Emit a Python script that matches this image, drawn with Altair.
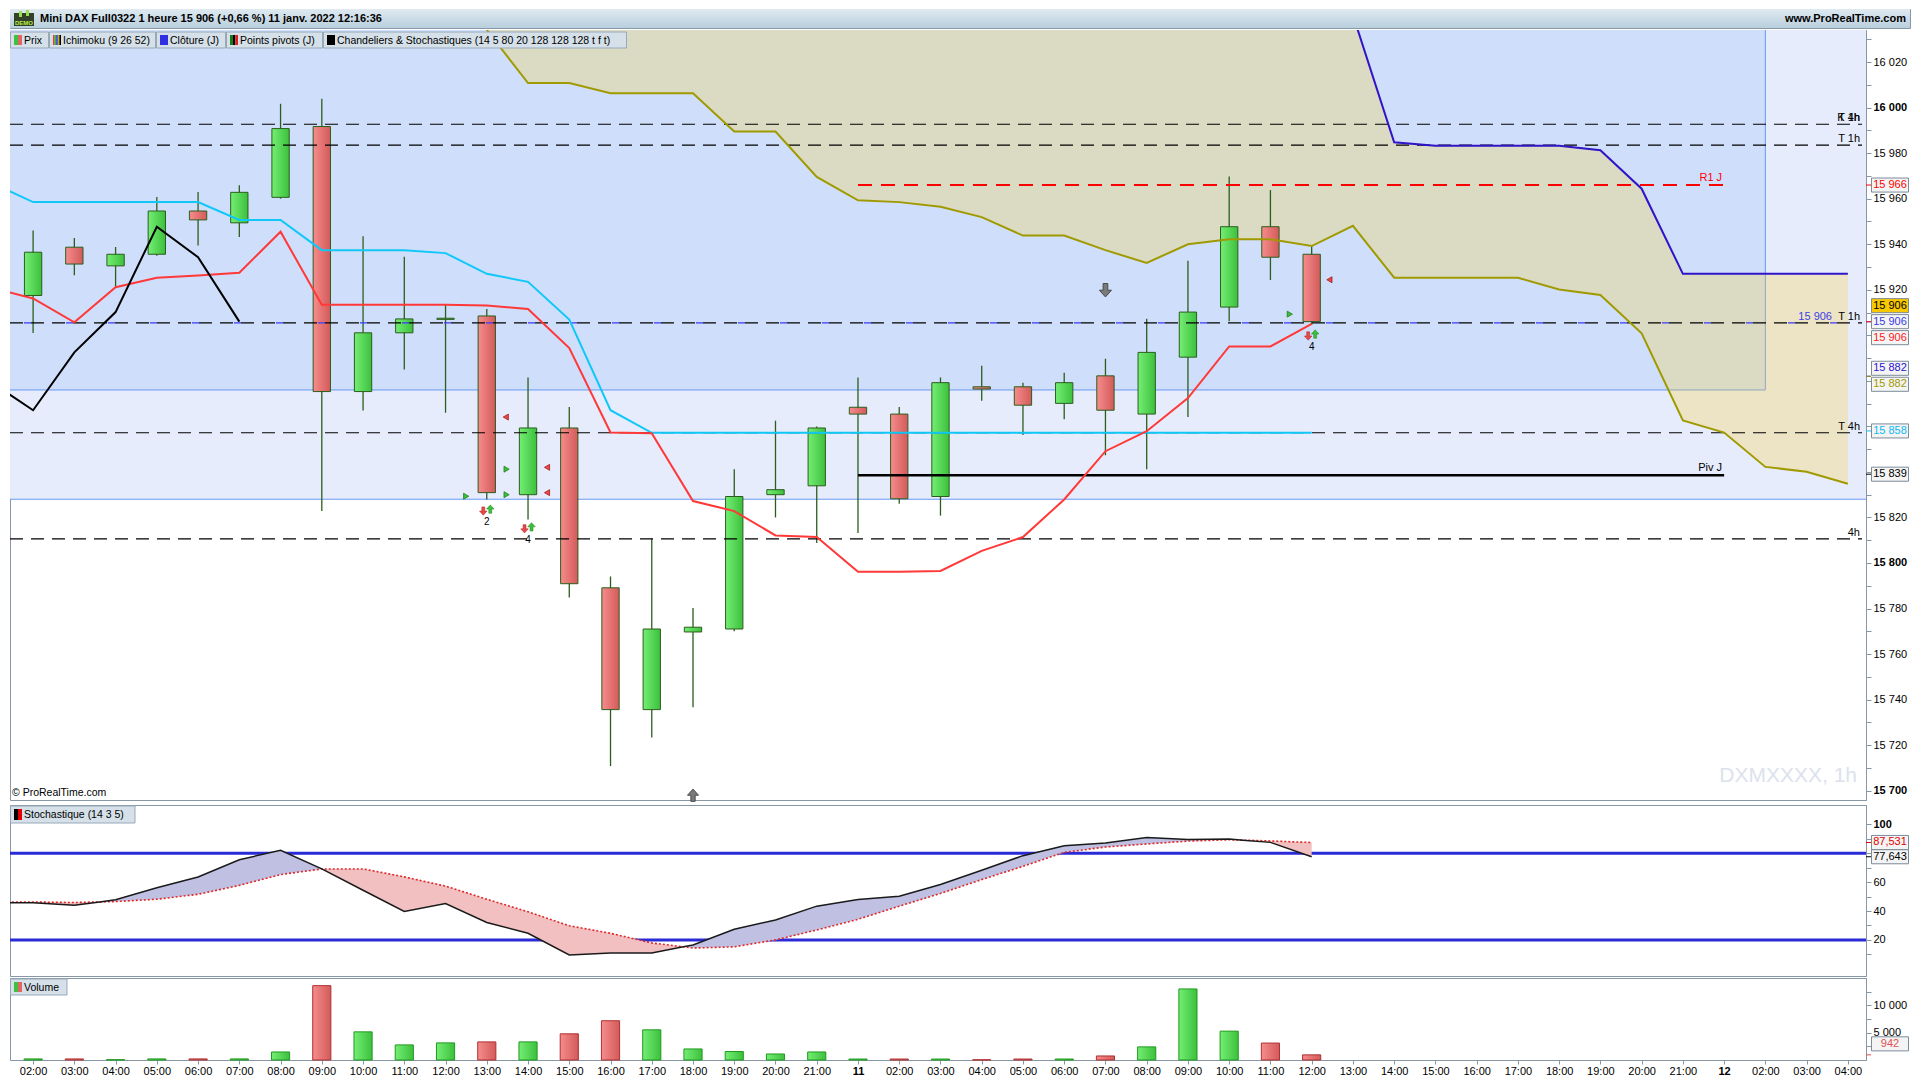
import altair as alt
import pandas as pd

# ---------------- values ----------------
hours = ["02:00", "03:00", "04:00", "05:00", "06:00", "07:00", "08:00", "09:00", "10:00", "11:00",
         "12:00", "13:00", "14:00", "15:00", "16:00", "17:00", "18:00", "19:00", "20:00", "21:00",
         "11",
         "02:00", "03:00", "04:00", "05:00", "06:00", "07:00", "08:00", "09:00", "10:00", "11:00",
         "12:00", "13:00", "14:00", "15:00", "16:00", "17:00", "18:00", "19:00", "20:00", "21:00",
         "12",
         "02:00", "03:00", "04:00"]

opens = [15917.5, 15938.7, 15930.5, 15935.6, 15954.6, 15949.4, 15960.6, 15991.7, 15875.3, 15901.1,
         15907.0, 15908.5, 15830.0, 15859.3, 15789.1, 15735.6, 15769.7, 15771.0, 15830.0, 15833.9,
         15868.4, 15865.4, 15829.2, 15877.4, 15877.4, 15870.1, 15882.2, 15865.4, 15890.4, 15912.4,
         15947.7, 15935.6]
highs = [15946.0, 15942.7, 15938.8, 15960.8, 15962.9, 15965.9, 16001.7, 16003.9, 15943.5, 15934.5,
         15913.4, 15911.6, 15881.5, 15868.5, 15794.1, 15810.6, 15780.2, 15841.2, 15862.5, 15860.0,
         15881.5, 15868.5, 15881.5, 15886.6, 15879.2, 15883.6, 15889.7, 15907.3, 15932.8, 15969.8,
         15963.8, 15939.2]
lows = [15901.0, 15926.4, 15921.3, 15935.0, 15939.4, 15943.2, 15960.0, 15822.8, 15867.0, 15885.0,
        15866.0, 15827.9, 15819.1, 15784.8, 15710.8, 15723.4, 15736.6, 15770.0, 15820.0, 15808.8,
        15813.2, 15826.0, 15820.8, 15871.3, 15856.2, 15863.1, 15847.3, 15841.2, 15864.1, 15906.2,
        15924.3, 15904.5]
closes = [15936.5, 15931.3, 15935.6, 15954.6, 15950.7, 15962.8, 15990.8, 15875.3, 15901.1, 15907.2,
          15907.5, 15830.9, 15859.3, 15790.9, 15735.6, 15771.0, 15771.8, 15829.2, 15832.2, 15859.3,
          15865.4, 15828.2, 15879.2, 15876.4, 15869.3, 15879.2, 15867.1, 15892.5, 15910.2, 15947.7,
          15934.3, 15906.0]
volumes = [200, 200, 60, 200, 200, 200, 1470, 13600, 5150, 2760,
           3130, 3310, 3310, 4790, 7180, 5520, 2020, 1550, 1100, 1470,
           180, 180, 180, 40, 180, 180, 740, 2400, 13000, 5280,
           3100, 942]

# Ichimoku (first index of each series given by *_start)
line_start = -1
tenkan = [15920.8, 15916.2, 15905.7, 15921.1, 15925.3, 15926.3, 15927.5, 15945.5, 15913.4, 15913.4,
          15913.4, 15913.4, 15913.1, 15911.6, 15894.4, 15857.3, 15857.0, 15827.2, 15822.8, 15812.1,
          15811.4, 15796.1, 15796.1, 15796.5, 15805.3, 15811.4, 15827.9, 15849.1, 15857.9, 15872.4,
          15895.1, 15895.1, 15905.0]
kijun = [15966.9, 15958.5, 15958.5, 15958.5, 15958.5, 15958.5, 15950.7, 15950.7, 15937.4, 15937.4,
         15937.4, 15936.1, 15927.0, 15923.5, 15906.9, 15867.1, 15857.2, 15857.2, 15857.2, 15857.2,
         15857.2, 15857.2, 15857.2, 15857.2, 15857.2, 15857.2, 15857.2, 15857.2, 15857.2, 15857.2,
         15857.2, 15857.2, 15857.2]
chikou_shift = 26
senkou_start = 11
senkou_a = [16034.1, 16010.8, 16010.8, 16006.3, 16006.3, 16006.3, 15989.5, 15989.5, 15969.6, 15959.3,
            15958.5, 15956.5, 15951.9, 15943.8, 15943.8, 15937.4, 15931.8, 15940.0, 15942.2, 15942.2,
            15939.2, 15948.1, 15925.3, 15925.3, 15925.3, 15925.3, 15920.1, 15917.7, 15900.9, 15862.6,
            15857.3, 15842.2, 15840.1, 15834.8]
senkou_b = [16095.0, 16095.0, 16095.0, 16095.0, 16095.0, 16095.0, 16095.0, 16095.0, 16095.0, 16095.0,
            16095.0, 16095.0, 16095.0, 16095.0, 16095.0, 16095.0, 16095.0, 16095.0, 16095.0, 16095.0,
            16096.0, 16040.7, 15984.8, 15983.3, 15983.3, 15983.3, 15983.3, 15981.3, 15964.4, 15927.0,
            15927.0, 15927.0, 15927.0, 15927.0]

# stochastic (14 3 5), from index -1
stoch_k = [45.8, 45.8, 44.0, 47.8, 56.2, 63.6, 75.6, 82.1, 69.2, 54.4, 39.7, 45.2, 32.1, 24.6, 9.6,
           11.0, 11.0, 16.5, 27.4, 33.8, 43.4, 48.0, 50.3, 58.4, 68.3, 78.4, 85.3, 87.1, 91.0, 89.6,
           89.9, 87.6, 77.6]
stoch_d = [46.3, 46.3, 45.9, 46.6, 48.2, 51.6, 57.8, 65.3, 69.2, 69.2, 63.7, 57.3, 48.2, 39.5, 29.8,
           24.6, 17.9, 14.4, 15.2, 20.0, 26.9, 34.3, 43.4, 52.2, 61.8, 71.0, 80.7, 84.4, 86.5, 88.5,
           89.4, 88.6, 87.5]
stoch_levels = [80, 20]

# levels
level_values = [15992.7, 15983.5, 15905.5, 15857.2, 15810.6]
level_label_values = [15992.7, 15992.7, 15983.5, 15905.5, 15857.2, 15810.6]
level_label_texts = ["K 1h", "T 4h", "T 1h", "T 1h", "T 4h", "4h"]
close_j = 15905.5
r1_j = 15966.0
piv_j = 15838.5
pivot_from, pivot_to = 20, 41
zone_inner_low, zone_inner_end = 15876.0, 42
zone_outer_low = 15828.0

tri_right_i = [10.5, 11.48, 11.48, 30.47]
tri_right_v = [15829.3, 15841.2, 15830.0, 15909.3]
tri_left_i = [11.46, 12.46, 12.46, 31.43]
tri_left_v = [15864.1, 15842.0, 15830.9, 15924.4]
signal_i = [11, 12, 31]
signal_v = [15822.8, 15815.0, 15899.7]
signal_n = ["2", "4", "4"]
gray_down_i, gray_down_v = [26], [15919.8]
gray_up_i, gray_up_v = [16], [15698.0]

price_box_values = [15966, 15906, 15906, 15906, 15882, 15882, 15858, 15839]
price_box_texts = ["15 966", "15 906", "15 906", "15 906", "15 882", "15 882", "15 858", "15 839"]
stoch_box_values = [87.531, 77.643]
stoch_box_texts = ["87,531", "77,643"]
vol_box_values = [942]
vol_box_texts = ["942"]

# axis labels that the value boxes cover in the picture
price_hidden_labels = [15840, 15860, 15880, 15900]
stoch_shown_labels = [20, 40, 60, 100]

title_text = "Mini DAX Full0322 1 heure 15 906 (+0,66 %) 11 janv. 2022 12:16:36"
legend_names = ["Prix", "Ichimoku (9 26 52)", "Clôture (J)", "Points pivots (J)",
                "Chandeliers & Stochastiques (14 5 80 20 128 128 128 t f t)"]

# ---------------- layout / style ----------------
FONT = "Liberation Sans"
W, HH, HP, HS, HV = 1856, 19, 770, 171, 82
HW = 1900
X_MIN, X_MAX = -0.56, 44.44
BODY = 0.21
VBAR = 0.22
GRID = "#8797a5"
one = pd.DataFrame({"a": [0]})

xsc = alt.Scale(domain=[X_MIN, X_MAX], nice=False, zero=False)
ysc = alt.Scale(domain=[15695.9, 16034.1], nice=False, zero=False)
ssc = alt.Scale(domain=[-5, 113.5], nice=False, zero=False)
vsc = alt.Scale(domain=[0, 15000], nice=False, zero=False)

hidden = "[" + ",".join(str(v) for v in price_hidden_labels) + "]"
price_axis = alt.Axis(
    orient="right", title=None, values=list(range(15700, 16031, 10)),
    labelExpr=f"datum.value % 20 == 0 && indexof({hidden}, datum.value) < 0 ? "
              "replace(format(datum.value, ',d'), ',', ' ') : ''",
    labelFontWeight={"condition": {"test": "datum.value % 100 == 0", "value": "bold"}, "value": "normal"},
    tickSize=5, labelPadding=2, labelOverlap=False, grid=False)
shown = "[" + ",".join(str(v) for v in stoch_shown_labels) + "]"
stoch_axis = alt.Axis(
    orient="right", title=None, values=list(range(10, 101, 10)),
    labelExpr=f"indexof({shown}, datum.value) >= 0 ? '' + datum.value : ''",
    labelFontWeight={"condition": {"test": "datum.value == 100", "value": "bold"}, "value": "normal"},
    tickSize=5, labelPadding=2, labelOverlap=False, grid=False)
vol_axis = alt.Axis(
    orient="right", title=None, values=[2500, 5000, 7500, 10000, 12500],
    labelExpr="datum.value % 5000 == 0 ? replace(format(datum.value, ',d'), ',', ' ') : ''",
    tickSize=5, labelPadding=2, labelOverlap=False, grid=False)
bold_idx = [j for j, h in enumerate(hours) if len(h) <= 2]
label_expr = "[" + ",".join("'" + h + "'" for h in hours) + "][datum.value]"
x_axis = alt.Axis(
    orient="bottom", title=None, values=list(range(len(hours))), labelExpr=label_expr,
    labelFontWeight={"condition": {"test": " || ".join(f"datum.value == {j}" for j in bold_idx),
                                   "value": "bold"}, "value": "normal"},
    labelFontSize=11, tickSize=4, labelPadding=1, labelOverlap=False, labelAngle=0, grid=False,
    domain=False)


def X(f="i"):
    return alt.X(f"{f}:Q", scale=xsc, axis=None, title=None)


def XV(f="i"):
    return alt.X(f"{f}:Q", scale=xsc, axis=x_axis, title=None)


def YP(f):
    return alt.Y(f"{f}:Q", scale=ysc, axis=price_axis, title=None)


def YS(f):
    return alt.Y(f"{f}:Q", scale=ssc, axis=stoch_axis, title=None)


def YV(f):
    return alt.Y(f"{f}:Q", scale=vsc, axis=vol_axis, title=None)


def grad(c0, c1, vertical=False):
    return alt.LinearGradient(gradient="linear",
                              stops=[alt.GradientStop(color=c0, offset=0),
                                     alt.GradientStop(color=c1, offset=1)],
                              x1=0, x2=0 if vertical else 1, y1=0, y2=1 if vertical else 0)


G_UP = grad("#74ee74", "#3cc03c")
G_DN = grad("#f68c8c", "#d35a5a")
EDGE = "#2b5e1c"


def px_rect(x0, x1, y0, y1, **kw):
    return alt.Chart(one).mark_rect(**kw).encode(
        x=alt.value(x0), x2=alt.value(x1), y=alt.value(y0), y2=alt.value(y1))


def px_text(x, y, text, **kw):
    kw.setdefault("font", FONT)
    return alt.Chart(one).mark_text(text=text, **kw).encode(x=alt.value(x), y=alt.value(y))


BOX_PATH = "M-1,-0.38L1,-0.38L1,0.38L-1,0.38Z"


def value_box(val, text, color, bg, yoff, yfun):
    d = pd.DataFrame({"v": [val]})
    base = alt.Chart(d)
    tick = base.mark_rule(color=color, strokeWidth=1).encode(
        x=alt.value(W), x2=alt.value(W + 5), y=yfun("v"))
    box = base.mark_point(shape=BOX_PATH, size=37 * 37, filled=True, fill=bg, stroke="#7d8c99",
                          strokeWidth=1, opacity=1, yOffset=yoff).encode(x=alt.value(W + 24), y=yfun("v"))
    txt = base.mark_text(text=text, color=color, fontSize=11, font=FONT, align="center",
                         baseline="middle", yOffset=yoff).encode(x=alt.value(W + 24), y=yfun("v"))
    return [tick, box, txt]


# ---------------- tables ----------------
n = len(opens)
cd = pd.DataFrame({"i": list(range(n)), "o": opens, "h": highs, "l": lows, "c": closes})
cd["top"] = cd[["o", "c"]].max(axis=1)
cd["bot"] = cd[["o", "c"]].min(axis=1)
cd["up"] = cd["c"] >= cd["o"]
cd["x0"] = cd["i"] - BODY
cd["x1"] = cd["i"] + BODY

idx_lines = list(range(line_start, line_start + len(tenkan)))
ten_df = pd.DataFrame({"i": idx_lines, "v": tenkan})
kij_df = pd.DataFrame({"i": idx_lines, "v": kijun})
chi_idx = [j - chikou_shift for j in range(n) if j - chikou_shift >= line_start]
chi_df = pd.DataFrame({"i": chi_idx, "v": [closes[j + chikou_shift] for j in chi_idx]})
idx_sk = list(range(senkou_start, senkou_start + len(senkou_a)))
cloud_df = pd.DataFrame({"i": idx_sk, "a": senkou_a, "b": senkou_b})

bg_df = pd.DataFrame({"left": [X_MIN], "right": [zone_inner_end], "inner": [zone_inner_low],
                      "outer": [zone_outer_low]})
lev_df = pd.DataFrame({"v": level_values})
lab_df = pd.DataFrame({"v": level_label_values, "t": level_label_texts})
piv_df = pd.DataFrame({"v": [r1_j, piv_j], "x0": [pivot_from] * 2, "x1": [pivot_to] * 2,
                       "t": ["R1 J", "Piv J"]})

P = []
P.append(alt.Chart(bg_df).mark_rect(fill="#e6ecfc").encode(
    x=alt.value(0), x2=alt.value(W), y=YP("outer"), y2=alt.value(0)))
P.append(alt.Chart(bg_df).mark_rect(fill="#cfdefb").encode(
    x=X("left"), x2="right:Q", y=YP("inner"), y2=alt.value(0)))
P.append(alt.Chart(bg_df).mark_rule(color="#6a98f4", strokeWidth=1).encode(
    x=X("left"), x2="right:Q", y=YP("inner")))
P.append(alt.Chart(bg_df).mark_rule(color="#6a98f4", strokeWidth=1).encode(
    x=X("right"), y=YP("inner"), y2=alt.value(0)))
P.append(alt.Chart(bg_df).mark_rule(color="#6a98f4", strokeWidth=1).encode(
    x=alt.value(0), x2=alt.value(W), y=YP("outer")))
# cloud
P.append(alt.Chart(cloud_df).mark_area(fill="#fcd02c", opacity=0.27, clip=True).encode(
    x=X(), y=YP("a"), y2="b:Q"))
# candles
P.append(alt.Chart(cd).mark_rule(color=EDGE, strokeWidth=1.3).encode(
    x=X(), y=YP("l"), y2="h:Q"))
P.append(alt.Chart(cd).transform_filter("datum.up").mark_rect(fill=G_UP, stroke=EDGE, strokeWidth=1).encode(
    x=X("x0"), x2="x1:Q", y=YP("bot"), y2="top:Q"))
P.append(alt.Chart(cd).transform_filter("!datum.up").mark_rect(fill=G_DN, stroke=EDGE, strokeWidth=1).encode(
    x=X("x0"), x2="x1:Q", y=YP("bot"), y2="top:Q"))
# level lines
P.append(alt.Chart(pd.DataFrame({"v": [close_j]})).mark_rule(
    color="#3a3aff", strokeWidth=1.3, strokeDash=[7, 35], strokeDashOffset=-14).encode(
    x=alt.value(0), x2=alt.value(W - 4), y=YP("v")))
P.append(alt.Chart(lev_df).mark_rule(color="black", strokeWidth=1.2, strokeDash=[13, 8]).encode(
    x=alt.value(0), x2=alt.value(W - 4), y=YP("v")))
P.append(alt.Chart(piv_df).transform_filter("datum.t == 'R1 J'").mark_rule(
    color="#ff0000", strokeWidth=2, strokeDash=[14, 9]).encode(
    x=X("x0"), x2="x1:Q", y=YP("v")))
P.append(alt.Chart(piv_df).transform_filter("datum.t == 'Piv J'").mark_rule(
    color="black", strokeWidth=2.5).encode(
    x=X("x0"), x2="x1:Q", y=YP("v")))
# ichimoku lines
for df, col in [(cloud_df.rename(columns={"a": "v"}), "#a09a00"),
                (cloud_df.rename(columns={"b": "v"}), "#3014c8"),
                (kij_df, "#10c8f8"), (ten_df, "#ff3838"), (chi_df, "#000000")]:
    P.append(alt.Chart(df).mark_line(color=col, strokeWidth=2, clip=True).encode(
        x=X(), y=YP("v")))

# markers
ARROW_DOWN = "M-0.35,-1L0.35,-1L0.35,0L0.9,0L0,1L-0.9,0L-0.35,0Z"
ARROW_UP = "M-0.35,1L0.35,1L0.35,0L0.9,0L0,-1L-0.9,0L-0.35,0Z"
tr = pd.DataFrame({"i": tri_right_i, "v": tri_right_v})
tl = pd.DataFrame({"i": tri_left_i, "v": tri_left_v})
sg = pd.DataFrame({"i": signal_i, "v": signal_v, "n": signal_n})
P.append(alt.Chart(tr).mark_point(shape="triangle-right", size=36, filled=True, fill="#3cc03c",
                                  stroke="#1f7f1f", strokeWidth=0.8, opacity=1).encode(
    x=X(), y=YP("v")))
P.append(alt.Chart(tl).mark_point(shape="triangle-left", size=36, filled=True, fill="#ee4646",
                                  stroke="#a01f1f", strokeWidth=0.8, opacity=1).encode(
    x=X(), y=YP("v")))
P.append(alt.Chart(sg).mark_point(shape=ARROW_DOWN, size=70, filled=True, fill="#e84848",
                                  stroke="#b02020", strokeWidth=0.5, opacity=1, xOffset=-3.5).encode(
    x=X(), y=YP("v")))
P.append(alt.Chart(sg).mark_point(shape=ARROW_UP, size=70, filled=True, fill="#3cc03c",
                                  stroke="#1f7f1f", strokeWidth=0.5, opacity=1, xOffset=3.5, yOffset=-2).encode(
    x=X(), y=YP("v")))
P.append(alt.Chart(sg).mark_text(fontSize=10, font=FONT, color="black", yOffset=11).encode(
    x=X(), y=YP("v"), text="n:N"))
P.append(alt.Chart(pd.DataFrame({"i": gray_down_i, "v": gray_down_v})).mark_point(
    shape=ARROW_DOWN, size=180, filled=True, fill="#7a7a7a", stroke="#4a4a4a", strokeWidth=1, opacity=1).encode(
    x=X(), y=YP("v")))
P.append(alt.Chart(pd.DataFrame({"i": gray_up_i, "v": gray_up_v})).mark_point(
    shape=ARROW_UP, size=150, filled=True, fill="#7a7a7a", stroke="#4a4a4a", strokeWidth=1, opacity=1).encode(
    x=X(), y=YP("v")))

# line labels
P.append(alt.Chart(lab_df).mark_text(font=FONT, fontSize=11, color="black", align="right",
                                     baseline="bottom", dy=-1).encode(
    x=alt.value(W - 6), y=YP("v"), text="t:N"))
P.append(alt.Chart(pd.DataFrame({"v": [close_j], "t": ["15 906"]})).mark_text(
    font=FONT, fontSize=11, color="#4040e8", align="right", baseline="bottom", dy=-1).encode(
    x=alt.value(W - 34), y=YP("v"), text="t:N"))
P.append(alt.Chart(piv_df).mark_text(font=FONT, fontSize=11, align="right", baseline="bottom",
                                     dy=-2, dx=-2).encode(
    x=X("x1"), y=YP("v"), text="t:N",
    color=alt.Color("t:N", scale=alt.Scale(domain=["R1 J", "Piv J"], range=["#ff0000", "#000000"]),
                    legend=None)))

# texts
P.append(px_text(2, HP - 7, "© ProRealTime.com", fontSize=10.5, align="left", baseline="middle", color="black"))
P.append(px_text(W - 9, HP - 24, "DXMXXXX, 1h", fontSize=21, align="right", baseline="middle", color="#dce2ed"))

# legend row
edges = [0, 39, 146, 216, 313, 617]
sw_colors = [["#40c040", "#e46464"],
             ["#ff3030", "#20c040", "#3030e0", "#c0b000", "#000000"],
             ["#3030e0"],
             ["#108010", "#000000", "#e02020"],
             ["#000000"]]
for j, name in enumerate(legend_names):
    x0, x1 = edges[j], edges[j + 1]
    P.append(px_rect(x0 + 0.5, x1 - 0.5, 2, 18, fill="#d5e0e9", stroke="#98aaba", strokeWidth=1))
    cols = sw_colors[j]
    wst = 8 / len(cols)
    for k, col in enumerate(cols):
        P.append(px_rect(x0 + 4 + k * wst, x0 + 4 + (k + 1) * wst, 5, 15, fill=col))
    P.append(px_text(x0 + 14, 10.5, name, fontSize=10.5, align="left", baseline="middle", color="black"))

# value boxes
pb_style = [("#ff0000", "#f4f4f4", 0), ("#000000", "#f8c800", -16), ("#3a3ae8", "#f4f4f4", 0),
            ("#ff2020", "#f4f4f4", 16), ("#2a14d0", "#f4f4f4", -8), ("#a09a00", "#f4f4f4", 8),
            ("#10b8f0", "#f4f4f4", 0), ("#000000", "#f4f4f4", 0)]
for v, t, (c, bg, off) in zip(price_box_values, price_box_texts, pb_style):
    P.extend(value_box(v, t, c, bg, off, YP))

price = alt.layer(*P).properties(width=W, height=HP)

# ---------------- stochastic panel ----------------
xs = list(range(line_start, line_start + len(stoch_k)))
rows = []
for j in range(len(xs)):
    if j > 0:
        d0 = stoch_k[j - 1] - stoch_d[j - 1]
        d1 = stoch_k[j] - stoch_d[j]
        if d0 * d1 < 0:
            t = d0 / (d0 - d1)
            xc = xs[j - 1] + t * (xs[j] - xs[j - 1])
            yc = stoch_d[j - 1] + t * (stoch_d[j] - stoch_d[j - 1])
            rows.append((xc, yc, yc))
    rows.append((xs[j], stoch_k[j], stoch_d[j]))
sd = pd.DataFrame(rows, columns=["i", "k", "d"])
sd["hi"] = sd[["k", "d"]].max(axis=1)
sd["lo"] = sd[["k", "d"]].min(axis=1)

S = []
S.append(alt.Chart(pd.DataFrame({"v": stoch_levels})).mark_rule(color="#2a2ad8", strokeWidth=3).encode(
    x=alt.value(0), x2=alt.value(W), y=YS("v")))
S.append(alt.Chart(sd).mark_area(fill="#bfc0e2", opacity=1, clip=True).encode(
    x=X(), y=YS("d"), y2="hi:Q"))
S.append(alt.Chart(sd).mark_area(fill="#f2c0c0", opacity=1, clip=True).encode(
    x=X(), y=YS("lo"), y2="d:Q"))
S.append(alt.Chart(sd).mark_line(color="#e02828", strokeWidth=1.6, strokeDash=[2, 2], clip=True).encode(
    x=X(), y=YS("d")))
S.append(alt.Chart(sd).mark_line(color="#1a1a1a", strokeWidth=1.5, clip=True).encode(
    x=X(), y=YS("k")))
S.append(px_rect(0.5, 125, 1, 18, fill="#d5e0e9", stroke="#98aaba", strokeWidth=1))
S.append(px_rect(4, 8, 4, 15, fill="#000000"))
S.append(px_rect(8, 12, 4, 15, fill="#e00000"))
S.append(px_text(14, 10, "Stochastique (14 3 5)", fontSize=10.5, align="left", baseline="middle", color="black"))
for v, t, c in zip(stoch_box_values, stoch_box_texts, ["#e00000", "#000000"]):
    S.extend(value_box(v, t, c, "#f4f4f4", 0, YS))
stoch = alt.layer(*S).properties(width=W, height=HS)

# ---------------- volume panel ----------------
vd = pd.DataFrame({"i": list(range(n)), "v": volumes})
vd["zero"] = 0
vd["x0"] = vd["i"] - VBAR
vd["x1"] = vd["i"] + VBAR
vd["up"] = [True] + [closes[j] >= closes[j - 1] for j in range(1, n)]

V = []
V.append(alt.Chart(vd).transform_filter("datum.up").mark_rect(
    fill=G_UP, stroke="#1f9a1f", strokeWidth=1).encode(
    x=XV("x0"), x2="x1:Q", y=YV("v"), y2="zero:Q"))
V.append(alt.Chart(vd).transform_filter("!datum.up").mark_rect(
    fill=G_DN, stroke="#b03030", strokeWidth=1).encode(
    x=XV("x0"), x2="x1:Q", y=YV("v"), y2="zero:Q"))
V.append(px_rect(0.5, 57, 1, 17, fill="#d5e0e9", stroke="#98aaba", strokeWidth=1))
V.append(px_rect(4, 8, 4, 14, fill="#40c040"))
V.append(px_rect(8, 12, 4, 14, fill="#e46464"))
V.append(px_text(14, 9.5, "Volume", fontSize=10.5, align="left", baseline="middle", color="black"))
for v, t in zip(vol_box_values, vol_box_texts):
    V.extend(value_box(v, t, "#e05050", "#f4f4f4", -11, YV))
volume = alt.layer(*V).properties(width=W, height=HV)

# ---------------- header ----------------
Hd = [
    px_rect(0, HW, 0, HH, fill=grad("#dfeaf1", "#b9cfdd", vertical=True)),
    px_rect(4, 24, 4, 17, fill="#33402a"),
    px_rect(9, 12, 2, 8, fill="#9ae04a"),
    px_rect(16, 19, 1, 7, fill="#9ae04a"),
    px_text(14, 13.5, "DEMO", fontSize=6, fontWeight="bold", color="#b8f040", align="center", baseline="middle"),
    px_text(30, 10, title_text, fontSize=11, fontWeight="bold", color="black", align="left", baseline="middle"),
    px_text(HW - 4, 10, "www.ProRealTime.com", fontSize=11, fontWeight="bold", color="black",
            align="right", baseline="middle"),
]
header = alt.layer(*Hd).properties(width=HW, height=HH)

chart = alt.vconcat(header, price, stoch, volume, spacing=0).properties(
    padding=0
).configure_view(stroke=GRID, strokeWidth=1).configure_axis(
    labelFont=FONT, labelColor="black", labelFontSize=11, domainColor=GRID, tickColor=GRID, grid=False
).configure_concat(spacing=0)

chart.save("out.html", embed_options={"renderer": "svg", "actions": False})
